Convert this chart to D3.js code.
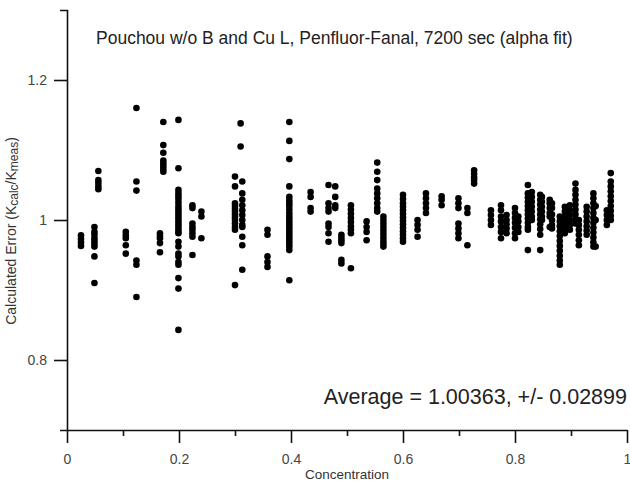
<!DOCTYPE html>
<html>
<head>
<meta charset="utf-8">
<script src="https://cdn.jsdelivr.net/npm/d3@7"></script>
<style>
  body { margin: 0; background: #fff; }
  svg { display: block; font-family: "Liberation Sans", Arial, sans-serif; }
</style>
</head>
<body>
<div id="chart"></div>
<script>
// x value of each column of points (concentration)
const concentration = [
  0.025, 0.049, 0.056, 0.105, 0.124, 0.166, 0.172, 0.199, 0.224, 0.240,
  0.300, 0.310, 0.313, 0.358, 0.397, 0.435, 0.467, 0.479, 0.490, 0.507,
  0.535, 0.554, 0.565, 0.600, 0.626, 0.641, 0.669, 0.699, 0.715, 0.727,
  0.757, 0.775, 0.785, 0.800, 0.806, 0.823, 0.830, 0.845, 0.848, 0.862,
  0.866, 0.880, 0.889, 0.898, 0.908, 0.914, 0.928, 0.940, 0.944, 0.964,
  0.971
];

// Kcalc/Kmeas values measured at each concentration above
const calcError = [
  [0.978, 0.973, 0.968, 0.963],
  [0.990, 0.983, 0.979, 0.974, 0.970, 0.966, 0.962, 0.948, 0.910],
  [1.070, 1.057, 1.053, 1.048, 1.044],
  [0.983, 0.978, 0.974, 0.964, 0.952],
  [1.160, 1.055, 1.042, 0.942, 0.936, 0.890],
  [0.981, 0.977, 0.974, 0.967, 0.954],
  [1.140, 1.107, 1.096, 1.085, 1.081, 1.077, 1.073, 1.069],
  [1.143, 1.074, 1.043, 1.038, 1.034, 1.030, 1.025, 1.020, 1.016, 1.012, 1.008, 1.004, 1.000,
   0.996, 0.992, 0.988, 0.984, 0.981, 0.969, 0.962, 0.952, 0.948, 0.940, 0.936, 0.917, 0.902, 0.843],
  [1.021, 1.017, 0.995, 0.990, 0.986, 0.981, 0.976, 0.950],
  [1.012, 1.005, 0.974],
  [1.062, 1.048, 1.024, 1.020, 1.016, 1.012, 1.008, 1.004, 1.000, 0.995, 0.990, 0.986, 0.907],
  [1.138, 1.105],
  [1.055, 1.038, 1.029, 1.021, 1.014, 1.007, 1.000, 0.993, 0.990, 0.976, 0.964, 0.929],
  [0.986, 0.979, 0.948, 0.940, 0.933],
  [1.140, 1.113, 1.087, 1.048, 1.033, 1.028, 1.024, 1.020, 1.015, 1.010, 1.006, 1.002, 0.998,
   0.994, 0.990, 0.986, 0.982, 0.978, 0.974, 0.970, 0.966, 0.962, 0.957, 0.914],
  [1.040, 1.033, 1.017, 1.012],
  [1.050, 1.024, 1.017, 1.012, 0.995, 0.990, 0.981, 0.969],
  [1.048, 1.033, 1.021, 1.017],
  [0.979, 0.975, 0.971, 0.967, 0.943, 0.938],
  [1.021, 1.015, 1.009, 1.003, 0.997, 0.991, 0.986, 0.981, 0.931],
  [0.998, 0.990, 0.983, 0.971],
  [1.082, 1.069, 1.057, 1.045, 1.038, 1.031, 1.024, 1.017, 1.012],
  [1.005, 1.000, 0.995, 0.990, 0.985, 0.980, 0.975, 0.970, 0.966, 0.962],
  [1.036, 1.030, 1.024, 1.019, 1.014, 1.009, 1.004, 0.999, 0.994, 0.989, 0.984, 0.979, 0.974, 0.969],
  [1.000, 0.993, 0.986, 0.976],
  [1.038, 1.031, 1.024, 1.017, 1.010],
  [1.034, 1.029, 1.021],
  [1.031, 1.024, 1.017, 0.995, 0.988, 0.981, 0.974],
  [1.017, 1.010, 0.964],
  [1.071, 1.066, 1.061, 1.057, 1.052],
  [1.014, 1.007, 1.000, 0.993],
  [1.021, 1.014, 1.005, 0.998, 0.990, 0.983, 0.974],
  [1.007, 1.000, 0.994, 0.988, 0.981],
  [1.017, 1.010, 1.003, 0.996, 0.989, 0.981, 0.974],
  [1.005, 0.998, 0.990, 0.983],
  [1.050, 1.038, 1.032, 1.026, 1.020, 1.014, 1.008, 1.002, 0.996, 0.990, 0.986, 0.957],
  [1.040, 1.033, 1.026, 1.019, 1.012, 1.005, 1.000],
  [1.036, 1.029, 1.022, 1.015, 1.008, 1.001, 0.994, 0.987, 0.979, 0.957],
  [1.033, 1.026, 1.019, 1.012, 1.005, 1.000],
  [1.029, 1.024, 1.017, 1.010, 1.005, 0.990],
  [1.024, 1.017, 1.008, 1.000, 0.993, 0.988],
  [1.005, 0.998, 0.991, 0.984, 0.977, 0.970, 0.963, 0.956, 0.949, 0.942, 0.936],
  [1.019, 1.012, 1.005, 0.998, 0.991, 0.986, 0.981],
  [1.021, 1.014, 1.007, 1.000, 0.993, 0.986],
  [1.052, 1.043, 1.036, 1.029, 1.022, 1.015, 1.008, 1.001, 0.995],
  [1.000, 0.993, 0.986, 0.979, 0.971, 0.964],
  [1.019, 1.012, 1.005, 0.998, 0.991, 0.985, 0.979],
  [1.038, 1.031, 1.024, 1.017, 1.010, 1.003, 0.996, 0.989, 0.982, 0.975, 0.968, 0.962],
  [1.020, 1.000, 0.962],
  [1.014, 1.007, 1.000, 0.993],
  [1.067, 1.055, 1.048, 1.041, 1.034, 1.027, 1.020, 1.013, 1.006, 1.000]
];

const xMajorTicks = [0, 0.2, 0.4, 0.6, 0.8, 1];
const xMinorTicks = [0.1, 0.3, 0.5, 0.7, 0.9];
const yTicks = [0.8, 1, 1.2];

const titleText = "Pouchou w/o B and Cu L, Penfluor-Fanal, 7200 sec (alpha fit)";
const averageText = "Average = 1.00363, +/- 0.02899";

const W = 630, H = 482;
const margin = { top: 10, right: 3, bottom: 52, left: 67 };

const svg = d3.select("#chart").append("svg")
    .attr("width", W).attr("height", H);

const x = d3.scaleLinear().domain([0, 1]).range([margin.left, W - margin.right]);
const y = d3.scaleLinear().domain([0.7, 1.3]).range([H - margin.bottom, margin.top]);

// flatten the columns into single points
const points = concentration.flatMap((c, i) => calcError[i].map(v => ({ c, v })));

const fmt = d3.format("~g");

// x axis: long major ticks, short unlabeled minor ticks
svg.append("g")
    .attr("transform", `translate(0,${y(0.7)})`)
    .call(d3.axisBottom(x).tickValues(xMajorTicks).tickFormat(fmt).tickSize(13).tickSizeOuter(0).tickPadding(11));
svg.append("g")
    .attr("transform", `translate(0,${y(0.7)})`)
    .call(d3.axisBottom(x).tickValues(xMinorTicks).tickFormat("").tickSize(6).tickSizeOuter(0))
    .select(".domain").remove();

// y axis, the outer ticks give the little caps at both ends
svg.append("g")
    .attr("transform", `translate(${x(0)},0)`)
    .call(d3.axisLeft(y).tickValues(yTicks).tickFormat(fmt).tickSize(13).tickSizeOuter(7).tickPadding(7));

svg.selectAll(".domain, .tick line").attr("stroke", "#111").attr("stroke-width", 1.6);
svg.selectAll(".tick text").attr("fill", "#444").style("font-size", "14px")
    .style("font-family", "'Liberation Sans', Arial, sans-serif");

svg.append("g").selectAll("circle")
    .data(points)
    .join("circle")
    .attr("cx", d => x(d.c))
    .attr("cy", d => y(d.v))
    .attr("r", 3.3)
    .attr("fill", "#000");

svg.append("text")
    .attr("x", 96).attr("y", 44)
    .attr("fill", "#222")
    .style("font-size", "17.5px")
    .text(titleText);

svg.append("text")
    .attr("x", 627).attr("y", 404)
    .attr("text-anchor", "end")
    .attr("fill", "#222")
    .style("font-size", "21.5px")
    .text(averageText);

svg.append("text")
    .attr("x", (x(0) + x(1)) / 2).attr("y", 479)
    .attr("text-anchor", "middle")
    .attr("fill", "#333")
    .style("font-size", "13.5px")
    .text("Concentration");

// y label with subscripts
const yLabel = svg.append("text")
    .attr("transform", `translate(16,${y(1) + 11}) rotate(-90)`)
    .attr("text-anchor", "middle")
    .attr("fill", "#333")
    .style("font-size", "14px");
yLabel.append("tspan").text("Calculated Error (K");
yLabel.append("tspan").attr("dy", 2).style("font-size", "12px").text("calc");
yLabel.append("tspan").attr("dy", -2).text("/K");
yLabel.append("tspan").attr("dy", 2).style("font-size", "12px").text("meas");
yLabel.append("tspan").attr("dy", -2).text(")");
</script>
</body>
</html>
